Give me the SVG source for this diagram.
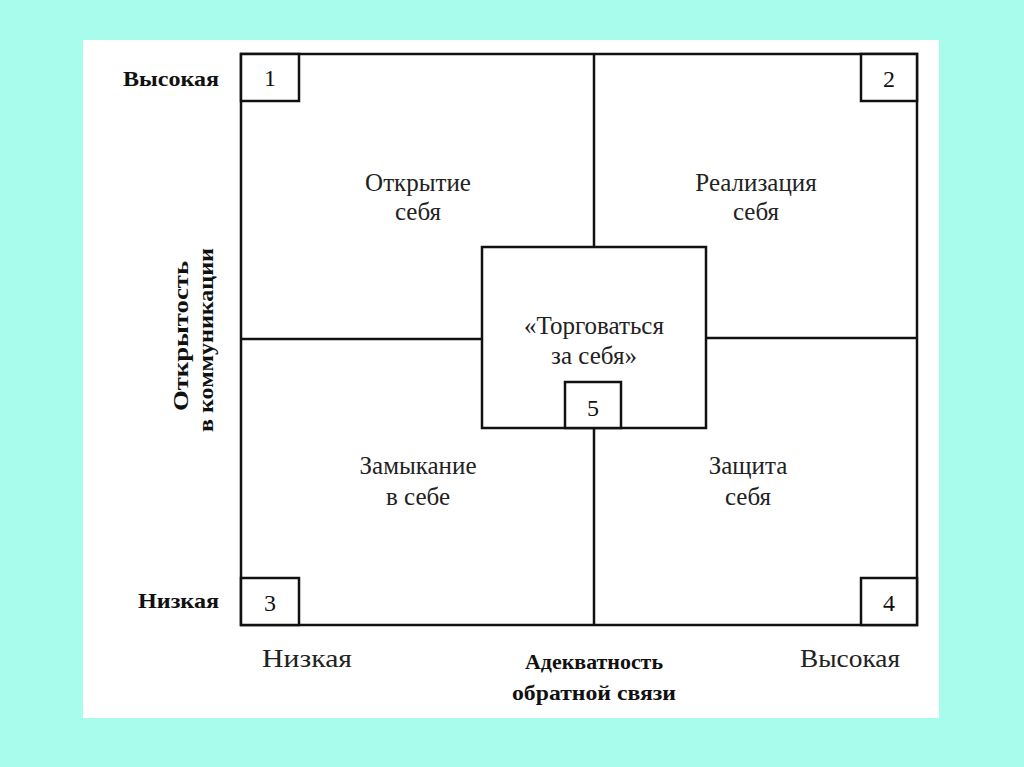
<svg xmlns="http://www.w3.org/2000/svg" width="1024" height="767" viewBox="0 0 1024 767">
<style>
.ln{stroke:#111;stroke-width:2.5;fill:none}
.bx{stroke:#111;stroke-width:2.5;fill:#fff}
.t{font-family:"Liberation Serif","Times New Roman",serif;font-size:25px;fill:#222;text-anchor:middle}
.b{font-family:"Liberation Serif","Times New Roman",serif;font-size:22px;font-weight:bold;fill:#111}
.n{font-family:"Liberation Serif","Times New Roman",serif;font-size:24px;fill:#111;text-anchor:middle}
</style>
<rect x="0" y="0" width="1024" height="767" fill="#A8FCEC"/>
<rect x="83" y="40" width="856" height="678" fill="#fff"/>
<g id="connectors">
<line class="ln" x1="594" y1="54" x2="594" y2="247"/>
<line class="ln" x1="594" y1="428" x2="594" y2="625"/>
<line class="ln" x1="241" y1="339" x2="482" y2="339"/>
<line class="ln" x1="706" y1="338" x2="917" y2="338"/>
</g>
<g id="frame"><rect class="ln" x="241" y="54" width="676" height="571"/></g>
<g id="box1"><rect class="bx" x="241" y="54" width="58" height="47"/><text class="n" x="270" y="86">1</text></g>
<g id="box2"><rect class="bx" x="861" y="54" width="56" height="47"/><text class="n" x="889" y="87">2</text></g>
<g id="box3"><rect class="bx" x="241" y="578" width="58" height="47"/><text class="n" x="270" y="611">3</text></g>
<g id="box4"><rect class="bx" x="861" y="578" width="56" height="47"/><text class="n" x="889" y="611">4</text></g>
<g id="center"><rect class="bx" x="482" y="247" width="224" height="181"/>
<text class="t" x="594" y="334">«Торговаться</text><text class="t" x="594" y="364">за себя»</text></g>
<g id="box5"><rect class="bx" x="565" y="382" width="56" height="46"/><text class="n" x="593" y="416">5</text></g>
<g id="q1"><text class="t" x="418" y="191">Открытие</text><text class="t" x="418" y="220">себя</text></g>
<g id="q2"><text class="t" x="756" y="191">Реализация</text><text class="t" x="756" y="220">себя</text></g>
<g id="q3"><text class="t" x="418" y="474">Замыкание</text><text class="t" x="418" y="505">в себе</text></g>
<g id="q4"><text class="t" x="748" y="474">Защита</text><text class="t" x="748" y="505">себя</text></g>
<g id="ylabels">
<text class="b" x="123" y="86" textLength="96" lengthAdjust="spacingAndGlyphs">Высокая</text>
<text class="b" x="138" y="608" textLength="81" lengthAdjust="spacingAndGlyphs">Низкая</text>
<text class="b" transform="translate(188,336) rotate(-90)" text-anchor="middle" textLength="150" lengthAdjust="spacingAndGlyphs">Открытость</text>
<text class="b" transform="translate(213,340) rotate(-90)" text-anchor="middle" textLength="184" lengthAdjust="spacingAndGlyphs">в коммуникации</text>
</g>
<g id="xlabels">
<text class="t" x="307" y="667" textLength="90" lengthAdjust="spacingAndGlyphs">Низкая</text>
<text class="t" x="850" y="667" textLength="100" lengthAdjust="spacingAndGlyphs">Высокая</text>
<text class="b" x="594" y="669" text-anchor="middle" textLength="138" lengthAdjust="spacingAndGlyphs">Адекватность</text>
<text class="b" x="594" y="700" text-anchor="middle" textLength="164" lengthAdjust="spacingAndGlyphs">обратной связи</text>
</g>
</svg>
